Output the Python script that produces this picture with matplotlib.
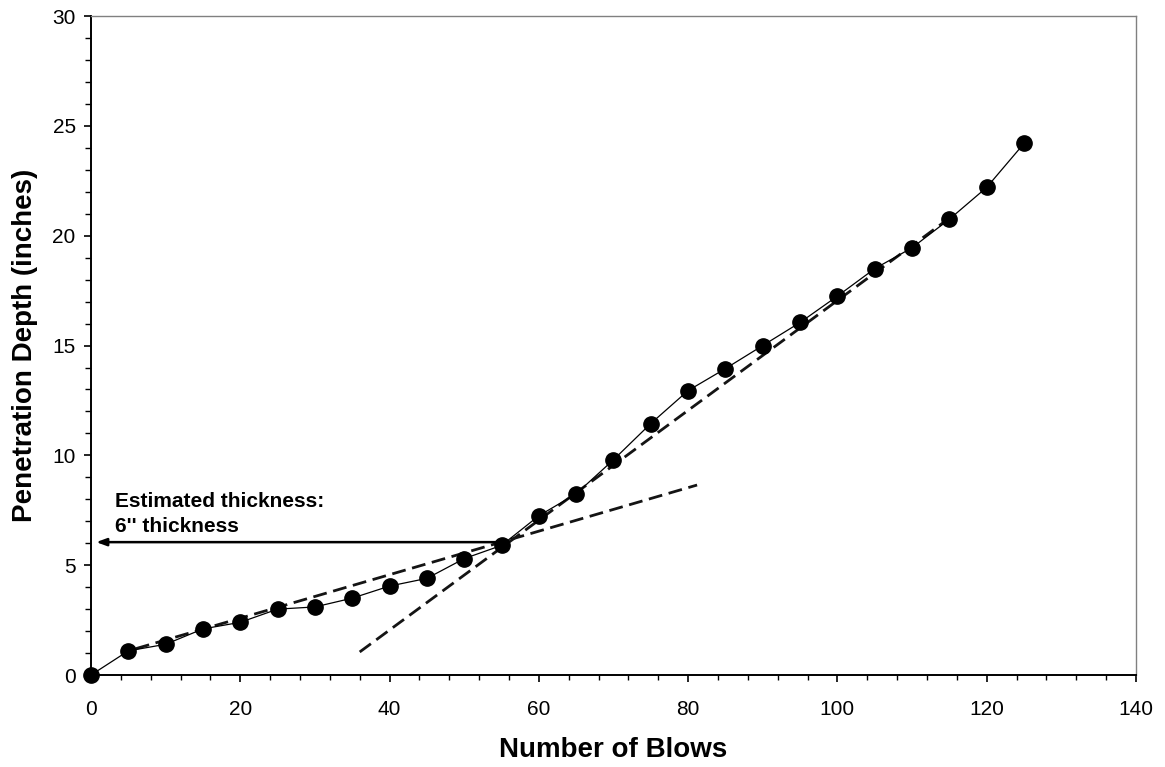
import matplotlib
matplotlib.use("Agg")
import matplotlib.pyplot as plt
from matplotlib.ticker import MultipleLocator

plt.rcParams['font.family'] = ['Liberation Sans', 'DejaVu Sans']

# DCP test readings
blows = [0, 5, 10, 15, 20, 25, 30, 35, 40, 45, 50, 55, 60, 65, 70, 75,
         80, 85, 90, 95, 100, 105, 110, 115, 120, 125]
depth = [0.0, 1.1, 1.4, 2.1, 2.4, 3.0, 3.1, 3.5, 4.05, 4.4, 5.3, 5.9, 7.25,
         8.25, 9.8, 11.45, 12.95, 13.95, 15.0, 16.05, 17.25, 18.5, 19.45,
         20.75, 22.2, 24.2]

# Trend lines for the two layers (start and end points)
upper_layer_x = [6.0, 81.2]
upper_layer_y = [1.2, 8.65]
lower_layer_x = [36.0, 115.0]
lower_layer_y = [1.05, 20.8]

# Layer break
break_blows = 55.0
break_depth = 6.05
annotation_text = "Estimated thickness:\n6'' thickness"

fig = plt.figure(figsize=(11.65, 7.67), dpi=100)
ax = fig.add_axes([0.0781, 0.1199, 0.8970, 0.8592])

dash = (0, (5.0, 2.4))
ax.plot(upper_layer_x, upper_layer_y, color='#141414', lw=2.0, linestyle=dash, zorder=2)
ax.plot(lower_layer_x, lower_layer_y, color='#141414', lw=2.0, linestyle=dash, zorder=2)

ax.plot(blows, depth, color='black', lw=0.9, marker='o', markersize=11,
        markerfacecolor='black', markeredgecolor='black', zorder=4,
        clip_on=False)

ax.annotate('', xy=(0.7, break_depth), xytext=(break_blows, break_depth),
            arrowprops=dict(arrowstyle='-|>,head_length=0.6,head_width=0.22',
                            color='black', lw=1.8, shrinkA=0, shrinkB=0),
            zorder=3)
ax.text(3.2, 7.35, annotation_text, fontsize=15, fontweight='bold',
        ha='left', va='center', linespacing=1.4, zorder=5)

ax.set_xlim(0, 140)
ax.set_ylim(0, 30)
ax.xaxis.set_major_locator(MultipleLocator(20))
ax.xaxis.set_minor_locator(MultipleLocator(4))
ax.yaxis.set_major_locator(MultipleLocator(5))
ax.yaxis.set_minor_locator(MultipleLocator(1))

ax.tick_params(axis='both', which='major', direction='out', length=5,
               width=1.2, labelsize=15, color='black', pad=6)
ax.tick_params(axis='both', which='minor', direction='out', length=3.5,
               width=1.0, color='black')
ax.tick_params(axis='x', which='major', pad=13)
ax.tick_params(axis='y', which='minor', length=4.5)

for side in ('left', 'bottom'):
    ax.spines[side].set_linewidth(1.4)
    ax.spines[side].set_color('black')
for side in ('top', 'right'):
    ax.spines[side].set_linewidth(1.0)
    ax.spines[side].set_color('#808080')

ax.set_xlabel('Number of Blows', fontsize=20, fontweight='bold', labelpad=13)
ax.set_ylabel('Penetration Depth (inches)', fontsize=20, fontweight='bold',
              labelpad=10)

fig.savefig('out.png', dpi=100, facecolor='white')
